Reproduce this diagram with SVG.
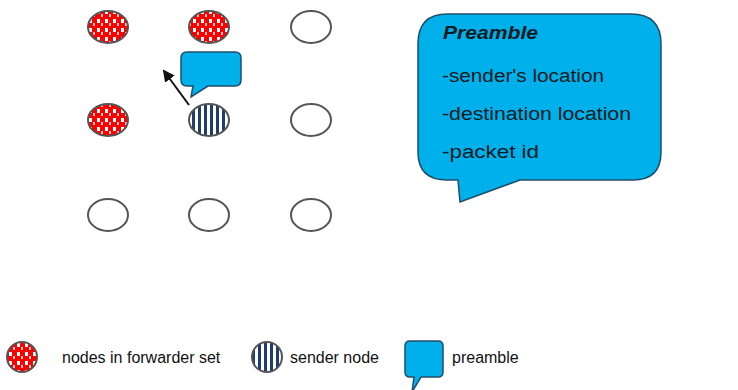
<svg xmlns="http://www.w3.org/2000/svg" width="738" height="390" viewBox="0 0 738 390">
<style>
.node{stroke:#555;stroke-width:2}
.empty{fill:#fff}
.fwd{fill:url(#checker)}
.snd{fill:url(#stripes)}
.bubble{fill:#00b0ea;stroke:#1f4e6b;stroke-width:1.5}
.t{font-family:"Liberation Sans",Arial,sans-serif;font-size:16px;fill:#111}
.c{font-size:18px;fill:#0a1a22}
</style>
<defs>
<pattern id="checker" patternUnits="userSpaceOnUse" width="8" height="9">
<rect width="8" height="9" fill="#f00"/>
<rect x="1" y="1" width="3" height="4" fill="#fff"/>
<rect x="5" y="5" width="2" height="3" fill="#ffc8c8"/>
</pattern>
<pattern id="stripes" patternUnits="userSpaceOnUse" width="6" height="6">
<rect width="6" height="6" fill="#fff"/>
<rect x="0" y="0" width="3" height="6" fill="#1f3d6e"/>
</pattern>
<marker id="ah" markerWidth="12" markerHeight="12" refX="10" refY="6" orient="auto" markerUnits="userSpaceOnUse">
<path d="M0,0 L12,6 L0,12 z" fill="#111"/>
</marker>
</defs>

<g id="n11"><ellipse class="node fwd" cx="108" cy="27" rx="20" ry="16"/></g>
<g id="n12"><ellipse class="node fwd" cx="209" cy="27" rx="20" ry="16"/></g>
<g id="n13"><ellipse class="node empty" cx="311" cy="27" rx="20" ry="16"/></g>
<g id="n21"><ellipse class="node fwd" cx="108" cy="120" rx="20" ry="16"/></g>
<g id="n22"><ellipse class="node snd" cx="209" cy="120" rx="20" ry="16"/></g>
<g id="n23"><ellipse class="node empty" cx="311" cy="120" rx="20" ry="16"/></g>
<g id="n31"><ellipse class="node empty" cx="108" cy="215" rx="20" ry="16"/></g>
<g id="n32"><ellipse class="node empty" cx="209" cy="215" rx="20" ry="16"/></g>
<g id="n33"><ellipse class="node empty" cx="311" cy="215" rx="20" ry="16"/></g>

<g id="connectors">
<line x1="189" y1="105" x2="164" y2="71" stroke="#111" stroke-width="2" marker-end="url(#ah)"/>
</g>

<g id="small-preamble">
<path class="bubble" d="M187,52 H235 Q241,52 241,58 V80 Q241,86 235,86 H208 L191,97 L193,86 H187 Q181,86 181,80 V58 Q181,52 187,52 Z"/>
</g>

<g id="preamble-box">
<path class="bubble" d="M447,14 H631 Q661,14 661,44 V152 Q661,180 633,180 H520 L460,202 L458,180 H447 Q418,180 418,152 V44 Q418,14 447,14 Z"/>
<text class="t c" x="443" y="39" font-weight="bold" font-style="italic" textLength="95" lengthAdjust="spacingAndGlyphs">Preamble</text>
<text class="t c" x="442" y="82" textLength="162" lengthAdjust="spacingAndGlyphs">-sender's location</text>
<text class="t c" x="442" y="120" textLength="189" lengthAdjust="spacingAndGlyphs">-destination location</text>
<text class="t c" x="442" y="158" textLength="97" lengthAdjust="spacingAndGlyphs">-packet id</text>
</g>

<g id="legend-fwd">
<ellipse class="node fwd" cx="22" cy="357" rx="15" ry="15"/>
<text class="t" x="62" y="363">nodes in forwarder set</text>
</g>
<g id="legend-sender">
<ellipse class="node snd" cx="267" cy="357" rx="15" ry="15"/>
<text class="t" x="290" y="363">sender node</text>
</g>
<g id="legend-preamble">
<path class="bubble" d="M410,341 H438 Q443,341 443,346 V372 Q443,377 438,377 H421 L412,392 L414,377 H410 Q405,377 405,372 V346 Q405,341 410,341 Z"/>
<text class="t" x="452" y="363">preamble</text>
</g>
</svg>
